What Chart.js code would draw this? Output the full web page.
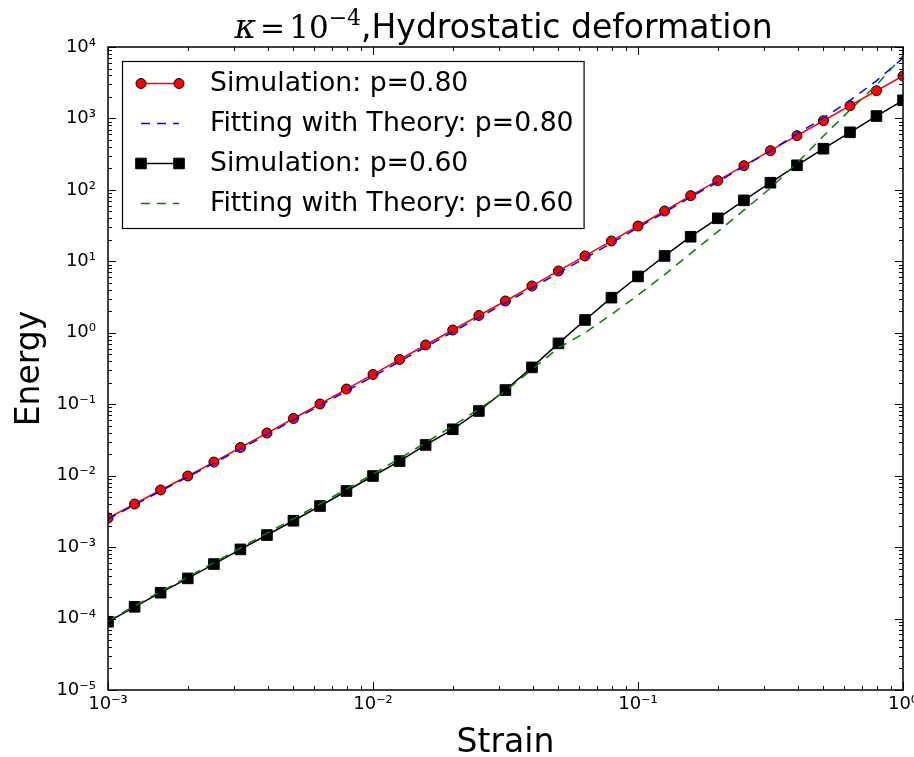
<!DOCTYPE html>
<html><head><meta charset="utf-8">
<script src="https://cdn.jsdelivr.net/npm/chart.js@4.4.0/dist/chart.umd.min.js"></script>
<style>html,body{margin:0;padding:0;background:#fff}#wrap{width:914px;height:757px;position:relative}</style>
</head><body><div id="wrap"><canvas id="c" width="914" height="757"></canvas></div>
<script>
const strain = [0.001, 0.00126, 0.00158, 0.002, 0.00251, 0.00316, 0.00398, 0.00501, 0.00631, 0.00794,
  0.01, 0.0126, 0.0158, 0.02, 0.0251, 0.0316, 0.0398, 0.0501, 0.0631, 0.0794,
  0.1, 0.126, 0.158, 0.2, 0.251, 0.316, 0.398, 0.501, 0.631, 0.794, 1.0];
const simP80 = [2.55e-3, 4.01e-3, 6.30e-3, 9.89e-3, 1.55e-2, 2.48e-2, 3.95e-2, 6.31e-2, 0.1007, 0.163,
  0.261, 0.423, 0.675, 1.094, 1.746, 2.786, 4.52, 7.33, 11.9, 19.3,
  31.2, 50.6, 83.0, 134.6, 218, 354, 574, 929, 1507, 2443, 3926];
const fitP80 = [2.47e-3, 3.88e-3, 6.10e-3, 9.57e-3, 1.50e-2, 2.36e-2, 3.77e-2, 6.01e-2, 9.59e-2, 0.153,
  0.244, 0.396, 0.632, 1.026, 1.64, 2.61, 4.24, 6.87, 11.1, 18.0,
  29.7, 48.2, 79.4, 129, 214, 353, 610, 1013, 1791, 3365, 7000];
const simP60 = [9.02e-5, 1.46e-4, 2.30e-4, 3.65e-4, 5.79e-4, 9.29e-4, 1.476e-3, 2.34e-3, 3.76e-3, 6.10e-3,
  9.89e-3, 1.60e-2, 2.69e-2, 4.46e-2, 8.04e-2, 0.158, 0.328, 0.711, 1.51, 3.10,
  6.14, 11.9, 22.1, 40.0, 71.4, 126, 221, 377, 640, 1081, 1795];
const fitP60 = [9.23e-5, 1.50e-4, 2.39e-4, 3.81e-4, 6.08e-4, 9.71e-4, 1.57e-3, 2.51e-3, 4.01e-3, 6.50e-3,
  1.055e-2, 1.74e-2, 2.91e-2, 4.95e-2, 8.57e-2, 0.153, 0.306, 0.615, 1.00, 1.80,
  3.38, 6.50, 12.9, 26.0, 52.0, 106, 238, 567, 1312, 2938, 7500];
const seriesLabels = ['Simulation: p=0.80', 'Fitting with Theory: p=0.80', 'Simulation: p=0.60', 'Fitting with Theory: p=0.60'];
const xTickValues = [1e-3, 1e-2, 1e-1, 1];
const xTickLabels = ['10\u207B\u00B3', '10\u207B\u00B2', '10\u207B\u00B9', '10\u2070'];
const yTickValues = [1e-5, 1e-4, 1e-3, 1e-2, 1e-1, 1, 10, 100, 1000, 10000];
const yTickLabels = ['10\u207B\u2075', '10\u207B\u2074', '10\u207B\u00B3', '10\u207B\u00B2', '10\u207B\u00B9', '10\u2070', '10\u00B9', '10\u00B2', '10\u00B3', '10\u2074'];
const minorMultipliers = [2, 3, 4, 5, 6, 7, 8, 9];
const titleMain = ',Hydrostatic deformation';
const xTitle = 'Strain';
const yTitle = 'Energy';

const pts = arr => strain.map((s, i) => ({x: s, y: arr[i]}));

const framePlugin = {
  id: 'frame',
  afterDatasetsDraw(chart) {
    const {ctx, chartArea: a, scales: {x, y}} = chart;
    ctx.save();
    ctx.strokeStyle = '#000';
    ctx.lineWidth = 1;
    ctx.beginPath();
    const tickX = (v, len) => {
      const px = Math.round(x.getPixelForValue(v)) + 0.5;
      if (px < a.left - 1 || px > a.right + 1) return;
      ctx.moveTo(px, a.bottom); ctx.lineTo(px, a.bottom - len);
      ctx.moveTo(px, a.top); ctx.lineTo(px, a.top + len);
    };
    const tickY = (v, len) => {
      const py = Math.round(y.getPixelForValue(v)) + 0.5;
      if (py < a.top - 1 || py > a.bottom + 1) return;
      ctx.moveTo(a.left, py); ctx.lineTo(a.left + len, py);
      ctx.moveTo(a.right, py); ctx.lineTo(a.right - len, py);
    };
    xTickValues.forEach(v => { tickX(v, 8); if (v < x.max) minorMultipliers.forEach(m => tickX(v * m, 4)); });
    yTickValues.forEach(v => { tickY(v, 8); if (v < y.max) minorMultipliers.forEach(m => tickY(v * m, 4)); });
    ctx.stroke();
    ctx.lineWidth = 1.5;
    ctx.strokeRect(a.left, a.top, a.right - a.left, a.bottom - a.top);
    ctx.restore();
  },
  afterDraw(chart) {
    const {ctx, chartArea: a} = chart;
    // legend
    ctx.save();
    const lfont = '26.7px "DejaVu Sans"';
    ctx.font = lfont;
    const ds = chart.data.datasets;
    const widths = ds.map(d => ctx.measureText(d.label).width);
    const bx = a.left + 14, by = a.top + 14;
    const bw = 88 + Math.max(...widths) + 10, bh = 167;
    ctx.fillStyle = '#fff';
    ctx.fillRect(bx, by, bw, bh);
    ctx.lineWidth = 1.2;
    ctx.strokeStyle = '#000';
    ctx.strokeRect(bx + 0.5, by + 0.5, bw, bh);
    ds.forEach((d, i) => {
      const cy = by + 22.5 + 40 * i;
      const x0 = bx + 19, x1 = bx + 57;
      ctx.beginPath();
      ctx.setLineDash(d.borderDash || []);
      ctx.lineWidth = d.borderWidth;
      ctx.strokeStyle = d.borderColor;
      ctx.moveTo(x0, cy); ctx.lineTo(x1, cy);
      ctx.stroke();
      ctx.setLineDash([]);
      if (d.pointRadius > 0) {
        [x0, x1].forEach(px => {
          ctx.beginPath();
          ctx.fillStyle = d.pointBackgroundColor;
          ctx.strokeStyle = d.pointBorderColor;
          ctx.lineWidth = d.pointBorderWidth;
          if (d.pointStyle === 'rect') {
            const s = Math.SQRT1_2 * d.pointRadius;
            ctx.rect(px - s, cy - s, 2 * s, 2 * s);
          } else {
            ctx.arc(px, cy, d.pointRadius, 0, Math.PI * 2);
          }
          ctx.fill(); ctx.stroke();
        });
      }
      ctx.fillStyle = '#000';
      ctx.font = lfont;
      ctx.textBaseline = 'middle';
      ctx.textAlign = 'left';
      ctx.fillText(d.label, bx + 88, cy + 1);
    });
    // title
    const parts = [
      {t: '\u03BA', f: 'italic 33px "DejaVu Serif"', dy: 0},
      {t: '=', f: '30px "DejaVu Serif"', dy: 0, pad: 4},
      {t: '10', f: '31px "DejaVu Serif"', dy: 0},
      {t: '\u22124', f: '22px "DejaVu Serif"', dy: -13},
      {t: titleMain, f: '33px "DejaVu Sans"', dy: 0}
    ];
    let total = 0;
    parts.forEach(p => { ctx.font = p.f; p.w = ctx.measureText(p.t).width + (p.pad || 0) * 2; total += p.w; });
    let cx = (a.left + a.right) / 2 - total / 2 - 2;
    ctx.fillStyle = '#000';
    ctx.textBaseline = 'alphabetic';
    ctx.textAlign = 'left';
    parts.forEach(p => { ctx.font = p.f; ctx.fillText(p.t, cx + (p.pad || 0), 38 + p.dy); cx += p.w; });
    ctx.restore();
  }
};

new Chart(document.getElementById('c'), {
  type: 'line',
  data: {
    datasets: [
      {label: seriesLabels[0], data: pts(simP80), borderColor: '#ff0000', borderWidth: 1.5,
       pointStyle: 'circle', pointRadius: 5, pointBackgroundColor: '#ff0000', pointBorderColor: '#000', pointBorderWidth: 1, order: 4, clip: 0},
      {label: seriesLabels[1], data: pts(fitP80), borderColor: '#0000ff', borderWidth: 1.5, borderDash: [9, 7],
       pointRadius: 0, order: 3, clip: 0},
      {label: seriesLabels[2], data: pts(simP60), borderColor: '#000000', borderWidth: 1.5,
       pointStyle: 'rect', pointRadius: 7.5, pointBackgroundColor: '#000', pointBorderColor: '#000', pointBorderWidth: 1, order: 2, clip: 0},
      {label: seriesLabels[3], data: pts(fitP60), borderColor: '#008000', borderWidth: 1.5, borderDash: [9, 7],
       pointRadius: 0, order: 1, clip: 0}
    ]
  },
  options: {
    responsive: false,
    animation: false,
    events: [],
    layout: {padding: {top: 47, right: 11, left: 0, bottom: 0}},
    plugins: {legend: {display: false}, tooltip: {enabled: false}, title: {display: false}},
    elements: {line: {tension: 0, fill: false}},
    scales: {
      x: {
        type: 'logarithmic', min: 1e-3, max: 1,
        grid: {display: false, drawTicks: false},
        border: {display: false},
        afterBuildTicks: s => { s.ticks = xTickValues.map(v => ({value: v, major: true})); },
        afterFit: s => { s.height = 67; s.paddingLeft = 0; s.paddingRight = 0; },
        ticks: {autoSkip: false, maxRotation: 0, minRotation: 0, padding: 4, color: '#000',
          font: {family: 'DejaVu Sans', size: 18},
          callback: (v, i) => xTickLabels[i]},
        title: {display: true, text: xTitle, color: '#000', font: {family: 'DejaVu Sans', size: 33, lineHeight: 0.8}, padding: {top: 0, bottom: 0}}
      },
      y: {
        type: 'logarithmic', min: 1e-5, max: 1e4,
        grid: {display: false, drawTicks: false},
        border: {display: false},
        afterBuildTicks: s => { s.ticks = yTickValues.map(v => ({value: v, major: true})); },
        afterFit: s => { s.width = 108; s.paddingTop = 0; s.paddingBottom = 0; },
        ticks: {autoSkip: false, padding: 12, color: '#000',
          font: {family: 'DejaVu Sans', size: 18},
          callback: (v, i) => yTickLabels[i]},
        title: {display: true, text: yTitle, color: '#000', font: {family: 'DejaVu Sans', size: 33, lineHeight: 0.8}, padding: {top: 17, bottom: 0}}
      }
    }
  },
  plugins: [framePlugin]
});
</script>
</body></html>
